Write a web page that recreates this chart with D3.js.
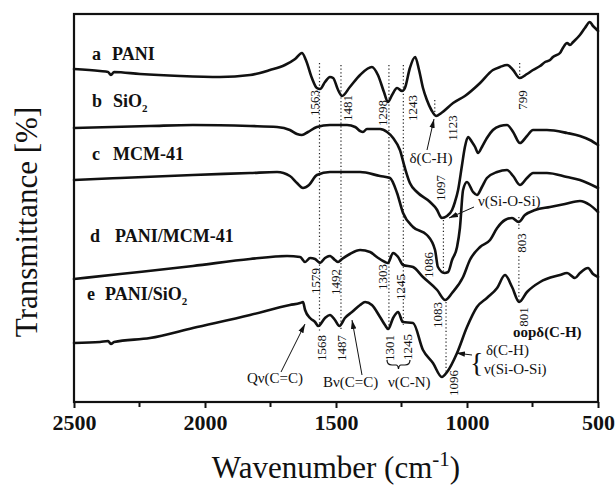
<!DOCTYPE html>
<html>
<head>
<meta charset="utf-8">
<script src="https://cdn.jsdelivr.net/npm/d3@7"></script>
<style>
  html, body { margin: 0; padding: 0; background: #fff; }
  svg { display: block; }
  text { font-family: "Liberation Serif", "Times New Roman", serif; fill: #111; }
</style>
</head>
<body>
<svg id="chart" width="616" height="489"></svg>
<script>
// FTIR spectra: wavenumber (cm^-1) against stacked transmittance (arbitrary units, offset per sample)
const majorTicks = [2500, 2000, 1500, 1000, 500];
const minorTicks = [2250, 1750, 1250, 750];

// [wavenumber, transmittance]
const specPANI = [
  [2500,333],[2401,331],[2370,330],[2359,327],[2347,330],[2248,328],[2095,326],[1943,325],[1828,327],
  [1752,332],[1695,337],[1656,343],[1630,349],[1615,342],[1592,324],[1573,314],[1561,313],[1542,320],
  [1523,325],[1511,324],[1492,312],[1477,306],[1447,315],[1408,327],[1363,335],[1340,327],[1317,310],
  [1302,300],[1286,307],[1267,314],[1248,311],[1237,314],[1218,334],[1198,345],[1183,332],[1168,314],
  [1153,302],[1136,292],[1118,286],[1098,289],[1053,299],[1008,306],[950,319],[901,332],[874,335],
  [847,337],[824,332],[799,324],[771,328],[748,332],[721,336],[702,340],[683,342],[672,345],[645,349],
  [634,354],[618,359],[607,357],[595,360],[569,367],[550,374],[531,380],[519,376],[511,374],[500,371]
];
const specSiO2 = [
  [2500,274],[2210,276],[2046,277],[1828,276],[1725,275],[1676,272],[1649,268],[1630,267],[1607,270],
  [1573,275],[1523,277],[1458,277],[1427,275],[1408,271],[1397,270],[1382,273],[1332,273],[1305,270],
  [1282,264],[1256,252],[1237,234],[1218,219],[1191,210],[1141,200],[1114,192],[1103,186],[1097,184],
  [1076,186],[1057,192],[1046,200],[1034,212],[1019,237],[1008,255],[996,265],[981,260],[969,255],
  [958,249],[943,255],[924,264],[901,272],[874,276],[847,277],[824,270],[798,259],[771,266],[748,272],
  [695,272],[618,269],[569,266],[531,262],[500,257]
];
const specMCM41 = [
  [2500,222],[2324,224],[2046,227],[1828,229],[1725,230],[1676,226],[1649,219],[1626,214],[1603,217],
  [1573,227],[1523,230],[1408,230],[1332,226],[1294,224],[1267,209],[1244,189],[1206,175],[1153,167],
  [1122,152],[1111,135],[1086,129],[1072,130],[1057,142],[1038,155],[1027,174],[1015,212],[1000,220],
  [977,210],[962,207],[943,215],[924,224],[885,230],[847,232],[824,226],[798,217],[771,224],[748,229],
  [695,229],[618,225],[569,222],[500,214]
];
const specPANIMCM = [
  [2500,123],[2324,128],[2046,136],[1828,143],[1687,146],[1637,145],[1618,140],[1599,144],[1580,143],
  [1561,139],[1542,144],[1523,146],[1504,142],[1492,140],[1477,143],[1447,148],[1408,152],[1370,150],
  [1344,145],[1313,140],[1302,139],[1282,149],[1263,145],[1244,137],[1206,135],[1168,125],[1114,112],
  [1083,102],[1057,109],[1015,125],[989,142],[950,155],[912,162],[885,174],[855,182],[828,184],[803,180],
  [779,187],[740,192],[683,195],[626,198],[569,201],[531,197],[500,190]
];
const specPANISiO2 = [
  [2500,59],[2401,60],[2370,61],[2359,58],[2347,60],[2210,64],[2046,74],[1828,87],[1676,97],[1637,99],
  [1626,100],[1618,92],[1599,84],[1580,80],[1568,76],[1542,84],[1523,87],[1504,82],[1487,76],[1466,84],
  [1439,90],[1408,97],[1389,100],[1363,97],[1332,85],[1313,77],[1301,73],[1282,84],[1263,90],[1245,80],
  [1206,79],[1168,52],[1130,39],[1096,25],[1076,30],[1038,49],[1000,75],[962,95],[924,104],[885,114],
  [855,127],[828,115],[801,100],[771,110],[721,120],[645,127],[618,129],[588,124],[569,129],[538,134],
  [519,128],[500,125]
];

const seriesData = [specPANI, specSiO2, specMCM41, specPANIMCM, specPANISiO2];

// dotted guide lines: [wavenumber, transmittance from, transmittance to]
const guideLines = [
  [1563,339,70],[1481,337,72],[1298,337,74],[1243,337,77],[1123,302,286],[799,339,324],
  [1090,182,130],[1080,100,28],[802,185,172],[802,146,100]
];

// peak wavenumber labels: [text, x, y] (rotated)
const peakLabels = [
  ["1563",314,103],["1481",347,108],["1298",382,113],["1243",412,108],["1123",452,128],["799",522,100],
  ["1097",440,188],["1086",428,265],
  ["1579",315,281],["1492",335,282],["1303",382,277],["1245",400,287],["1083",437,315],["803",521,243],
  ["1568",321,348],["1487",341,348],["1301",389,348],["1245",407,347],["1096",453,383],["801",523,317]
];

const svg = d3.select("#chart");
const plot = { left: 74, right: 598, top: 14, bottom: 402 };

const x = d3.scaleLinear().domain([2500, 500]).range([plot.left, plot.right]);
const y = d3.scaleLinear().domain([0, 388]).range([plot.bottom, plot.top]);

// arrowhead
svg.append("defs").append("marker")
  .attr("id", "head").attr("viewBox", "0 0 10 6")
  .attr("refX", 10).attr("refY", 3)
  .attr("markerWidth", 9).attr("markerHeight", 6)
  .attr("markerUnits", "userSpaceOnUse").attr("orient", "auto")
  .append("path").attr("d", "M0,0L10,3L0,6Z").attr("fill", "#111");

// guide lines
svg.append("g").selectAll("line").data(guideLines).join("line")
  .attr("x1", d => x(d[0])).attr("x2", d => x(d[0]))
  .attr("y1", d => y(d[1])).attr("y2", d => y(d[2]))
  .attr("stroke", "#222").attr("stroke-width", 1.2)
  .attr("stroke-dasharray", "1.2,2.4");

// spectra
const line = d3.line().x(d => x(d[0])).y(d => y(d[1])).curve(d3.curveMonotoneX);
svg.append("g").selectAll("path").data(seriesData).join("path")
  .attr("d", line)
  .attr("fill", "none").attr("stroke", "#111")
  .attr("stroke-width", 2.6).attr("stroke-linejoin", "round").attr("stroke-linecap", "round");

// frame
svg.append("rect")
  .attr("x", plot.left).attr("y", plot.top)
  .attr("width", plot.right - plot.left).attr("height", plot.bottom - plot.top)
  .attr("fill", "none").attr("stroke", "#111").attr("stroke-width", 2.2);

// bottom axis
const axis = d3.axisBottom(x).tickValues(majorTicks).tickSize(6).tickPadding(6).tickFormat(d3.format("d"));
const gx = svg.append("g").attr("transform", `translate(0,${plot.bottom})`).call(axis);
gx.select(".domain").remove();
gx.selectAll(".tick line").attr("stroke", "#111").attr("stroke-width", 2);
gx.selectAll(".tick text")
  .attr("font-family", "'Liberation Serif', 'Times New Roman', serif")
  .attr("font-size", 22).attr("font-weight", "bold").attr("fill", "#111");
svg.append("g").selectAll("line").data(minorTicks).join("line")
  .attr("x1", d => x(d)).attr("x2", d => x(d))
  .attr("y1", plot.bottom).attr("y2", plot.bottom + 5)
  .attr("stroke", "#111").attr("stroke-width", 2);

// axis titles
const xt = svg.append("text").attr("x", 336).attr("y", 478).attr("text-anchor", "middle")
  .attr("font-size", 31);
xt.append("tspan").text("Wavenumber (cm");
xt.append("tspan").attr("font-size", 21).attr("dy", -12).text("-1");
xt.append("tspan").attr("dy", 12).text(")");

svg.append("text").attr("transform", "translate(37,222) rotate(-90)")
  .attr("text-anchor", "middle").attr("font-size", 31).text("Transmittance [%]");

// sample names
const names = [
  { k: "a", x: 92, gap: 20, y: 60, parts: [["PANI"]] },
  { k: "b", x: 92, gap: 21, y: 107, parts: [["SiO"], ["2", true]] },
  { k: "c", x: 92, gap: 21, y: 160, parts: [["MCM-41"]] },
  { k: "d", x: 90, gap: 25, y: 242, parts: [["PANI/MCM-41"]] },
  { k: "e", x: 87, gap: 18, y: 300, parts: [["PANI/SiO"], ["2", true]] }
];
names.forEach(n => {
  const t = svg.append("text").attr("x", n.x).attr("y", n.y)
    .attr("font-size", 18).attr("font-weight", "bold");
  t.append("tspan").text(n.k);
  t.append("tspan").attr("x", n.x + n.gap).text(n.parts[0][0]);
  if (n.parts[1]) t.append("tspan").attr("font-size", 11).attr("dy", 5).text(n.parts[1][0]);
});

// peak labels
svg.append("g").selectAll("text").data(peakLabels).join("text")
  .attr("transform", d => `translate(${d[1]},${d[2]}) rotate(-90)`)
  .attr("text-anchor", "middle").attr("dominant-baseline", "central")
  .attr("font-size", 13).text(d => d[0]);

// band assignments
const notes = svg.append("g").attr("font-size", 15);
notes.append("text").attr("x", 431).attr("y", 163).attr("text-anchor", "middle").text("δ(C-H)");
notes.append("text").attr("x", 478).attr("y", 206).text("ν(Si-O-Si)");
notes.append("text").attr("x", 513).attr("y", 337).attr("font-weight", "bold").text("oopδ(C-H)");
notes.append("text").attr("x", 470).attr("y", 372).attr("font-size", 28).text("{");
notes.append("text").attr("x", 486).attr("y", 355).text("δ(C-H)");
notes.append("text").attr("x", 484).attr("y", 374).text("ν(Si-O-Si)");
notes.append("text").attr("x", 247).attr("y", 383).text("Qν(C=C)");
notes.append("text").attr("x", 323).attr("y", 387).text("Bν(C=C)");
notes.append("text").attr("x", 388).attr("y", 387).text("ν(C-N)");

const arrows = [
  [427,150,434,119], [474,207,449,218], [472,355,456,353], [281,372,305,324], [362,375,352,320]
];
svg.append("g").selectAll("line").data(arrows).join("line")
  .attr("x1", d => d[0]).attr("y1", d => d[1]).attr("x2", d => d[2]).attr("y2", d => d[3])
  .attr("stroke", "#111").attr("stroke-width", 1).attr("marker-end", "url(#head)");

// brace under the C-N pair
svg.append("path")
  .attr("d", "M387,360 Q387,365 392,365 L396,365 Q398,365 398.5,369 Q399,365 401,365 L405,365 Q410,365 410,360")
  .attr("fill", "none").attr("stroke", "#111").attr("stroke-width", 1.2);
</script>
</body>
</html>
